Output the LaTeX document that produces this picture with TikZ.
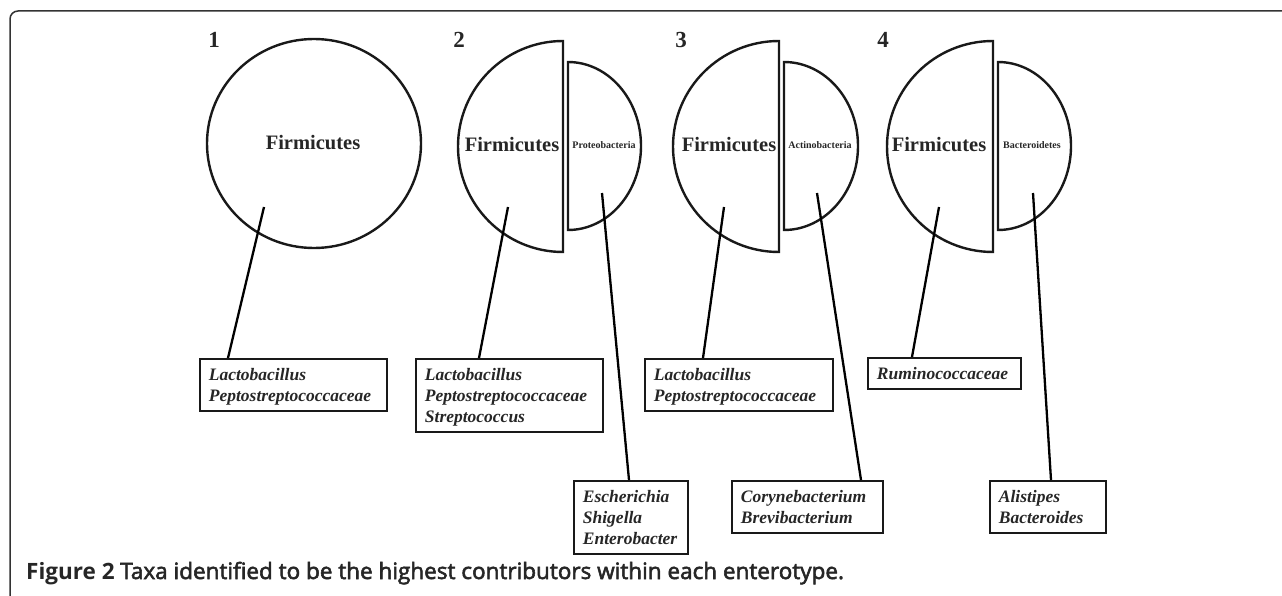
\documentclass[tikz,border=0pt]{standalone}
\usepackage{fontspec}
\setmainfont{Liberation Serif}
\newfontfamily\capfont{Open Sans}
\newfontfamily\capsemi[FakeBold=2.5]{Open Sans}
\usetikzlibrary{calc}
\newcommand\mytopstr{\rule{0pt}{18pt}}
\newcommand\mybotstr{\rule[-5pt]{0pt}{5pt}}
\definecolor{framegray}{HTML}{333333}
\tikzset{
  shapeline/.style={draw=black!90, line width=2.4pt},
  bigname/.style={font=\bfseries\fontsize{20.5}{25}\selectfont, anchor=base, inner sep=0pt, text=black!85},
  smallname/.style={font=\bfseries\fontsize{10}{12}\selectfont, anchor=base, inner sep=0pt, text=black!85},
  numlabel/.style={font=\bfseries\fontsize{23}{27}\selectfont, anchor=base, inner sep=0pt, text=black!85},
  taxabox/.style={draw=black!90, line width=1.8pt, anchor=north west, align=left,
    inner xsep=9pt, inner ysep=4pt, text=black!85,
    font=\bfseries\itshape\fontsize{17.5}{21}\selectfont},
  link/.style={draw=black, line width=2.3pt},
}
\begin{document}
\begin{tikzpicture}[x=1pt,y=-1pt]
\useasboundingbox (0,0) rectangle (1282,596);
% frame
\draw[framegray, line width=1.5pt] (10,596) -- (10,19) arc[start angle=180, end angle=270, radius=8] -- (1282,11);

% numbers
\node[numlabel] (n1) at (214,48) {1};
\node[numlabel] (n2) at (459,48) {2};
\node[numlabel] (n3) at (681,48) {3};
\node[numlabel] (n4) at (883,48) {4};

% shapes
\draw[shapeline] (314,143.5) ellipse [x radius=107, y radius=104.5];
\draw[shapeline] (563,41) arc[start angle=270, end angle=90, x radius=105, y radius=105.5] -- cycle;
\draw[shapeline] (568,62) arc[start angle=-90, end angle=90, x radius=73, y radius=84] -- cycle;
\draw[shapeline] (779,41) arc[start angle=270, end angle=90, x radius=106, y radius=105.5] -- cycle;
\draw[shapeline] (784,62) arc[start angle=-90, end angle=90, x radius=74, y radius=84] -- cycle;
\draw[shapeline] (993,41) arc[start angle=270, end angle=90, x radius=106, y radius=105.5] -- cycle;
\draw[shapeline] (998,62) arc[start angle=-90, end angle=90, x radius=73, y radius=84] -- cycle;

% names inside shapes
\node[bigname] (fi1) at (313,150) {Firmicutes};
\node[bigname] (fi2) at (512,152) {Firmicutes};
\node[bigname] (fi3) at (729,152) {Firmicutes};
\node[bigname] (fi4) at (939,152) {Firmicutes};
\node[smallname] (pr2) at (604,149) {Proteobacteria};
\node[smallname] (ac3) at (820,149) {Actinobacteria};
\node[smallname] (ba4) at (1032,149) {Bacteroidetes};

% connector start points
\coordinate (s1) at (264,207);
\coordinate (s2) at (508,207);
\coordinate (s2b) at (602,193);
\coordinate (s3) at (724,207);
\coordinate (s3b) at (817,193);
\coordinate (s4) at (939,207);
\coordinate (s4b) at (1033,193);

% boxes
\node[taxabox, text width=169pt] (b1) at (199,358) {\mytopstr Lactobacillus\\Peptostreptococcaceae\mybotstr};
\node[taxabox, text width=169pt] (b2) at (415,358) {\mytopstr Lactobacillus\\Peptostreptococcaceae\\Streptococcus\mybotstr};
\node[taxabox, text width=96pt] (b2b) at (573,480) {\mytopstr Escherichia\\Shigella\\Enterobacter\mybotstr};
\node[taxabox, text width=170pt] (b3) at (644,358) {\mytopstr Lactobacillus\\Peptostreptococcaceae\mybotstr};
\node[taxabox, text width=133pt] (b3b) at (731,480) {\mytopstr Corynebacterium\\Brevibacterium\mybotstr};
\node[taxabox, text width=135pt] (b4) at (867,357) {\mytopstr Ruminococcaceae\mybotstr};
\node[taxabox, text width=98pt] (b4b) at (989,480) {\mytopstr Alistipes\\Bacteroides\mybotstr};

% connectors
\draw[link] (s1) -- ($(b1.north west)+(29,0)$);
\draw[link] (s2) -- ($(b2.north west)+(64,0)$);
\draw[link] (s2b) -- ($(b2b.north west)+(56,0)$);
\draw[link] (s3) -- ($(b3.north west)+(59,0)$);
\draw[link] (s3b) -- ($(b3b.north west)+(130,0)$);
\draw[link] (s4) -- ($(b4.north west)+(45,0)$);
\draw[link] (s4b) -- ($(b4b.north west)+(62,0)$);

% caption
\node[anchor=base west, inner sep=0pt, text=black!85] (cap) at (26,579)
  {\fontsize{22.5}{26}\selectfont{\capfont\bfseries Figure 2} {\capsemi Taxa identified to be the highest contributors within each enterotype.}};
\end{tikzpicture}
\end{document}
